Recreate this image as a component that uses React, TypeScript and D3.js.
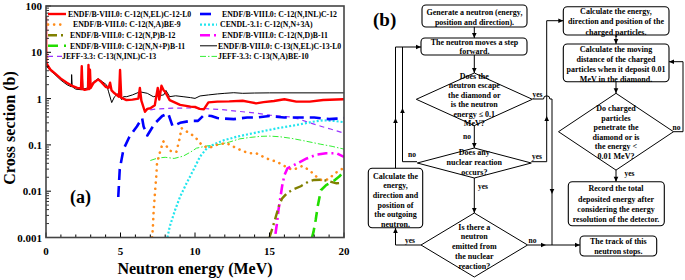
import React from 'react';
import * as d3 from 'd3';

// ---------------- DATA (panel a) ----------------
const xTicksMajor = [0, 5, 10, 15, 20];
const xTickLabels = ['0', '5', '10', '15', '20'];
const yTicksMajor = [100, 10, 1, 0.1, 0.01, 0.001];
const yTickLabels = ['100', '10', '1', '0.1', '0.01', '0.001'];

const c12Elastic: [number, number][] = [
  [0, 60], [0.02, 5.8], [0.3, 4.2], [0.6, 3.5], [1.0, 2.7], [1.4, 2.2], [1.8, 1.85], [2.1, 1.7], [2.35, 1.65],
  [2.4, 5.0], [2.45, 1.6], [2.6, 1.55], [2.82, 1.6], [2.85, 5.3], [2.9, 1.6], [2.95, 4.2], [3.0, 1.7],
  [3.2, 2.2], [3.5, 2.6], [3.7, 2.3], [4.0, 1.8], [4.2, 1.7], [4.3, 2.2], [4.4, 1.5], [4.6, 1.3], [4.9, 1.1],
  [4.97, 4.15], [5.05, 1.05], [5.4, 0.93], [5.8, 0.95], [6.2, 1.0], [6.3, 1.7], [6.4, 0.9], [6.64, 0.52],
  [6.8, 0.6], [7.0, 0.62], [7.3, 0.72], [7.5, 1.7], [7.6, 0.95], [7.75, 1.9], [7.9, 1.5], [8.0, 1.4],
  [8.3, 0.93], [9.0, 0.73], [9.7, 0.67], [10.0, 0.66], [10.3, 0.6], [10.6, 0.59], [10.9, 0.83],
  [11.5, 0.86], [12.3, 0.87], [13.2, 0.9], [13.6, 0.85], [14.1, 0.79], [14.6, 0.84], [15.3, 0.89],
  [16.0, 0.97], [16.8, 0.86], [17.7, 0.86], [18.6, 0.93], [19.95, 0.97], [20, 0.97],
];
const c12NA: [number, number][] = [
  [7.12, 0.001], [7.17, 0.0016], [7.22, 0.0035], [7.32, 0.01], [7.4, 0.021], [7.45, 0.04], [7.65, 0.07],
  [7.87, 0.12], [8.3, 0.075], [8.75, 0.07], [8.95, 0.13], [9.1, 0.23], [9.6, 0.18], [10.0, 0.15],
  [10.45, 0.1], [10.9, 0.085], [11.45, 0.1], [12.1, 0.11], [12.8, 0.084], [13.6, 0.066], [14.1, 0.066],
  [14.8, 0.051], [15.5, 0.043], [16.3, 0.031], [16.6, 0.029], [17.2, 0.035], [17.7, 0.028], [18.05, 0.022],
  [18.4, 0.0175], [18.95, 0.018], [19.4, 0.0245], [20, 0.032],
];
const c12NP: [number, number][] = [
  [15.0, 0.001], [15.2, 0.0016], [15.45, 0.003], [15.65, 0.005], [15.85, 0.007], [16.2, 0.0092],
  [16.6, 0.011], [17.1, 0.0128], [17.6, 0.016], [18.0, 0.0175], [18.5, 0.0177], [18.9, 0.0168],
  [19.5, 0.0148], [19.8, 0.015],
];
const c12NNP: [number, number][] = [
  [17.85, 0.001], [17.95, 0.0013], [18.1, 0.0024], [18.25, 0.005], [18.45, 0.0105], [18.8, 0.0135],
  [19.3, 0.0165], [19.7, 0.021], [20, 0.027],
];
const c13Inl: [number, number][] = [
  [7.0, 0.57], [7.5, 0.6], [8.5, 0.62], [10.0, 0.63], [11.0, 0.6], [12.0, 0.57], [13.2, 0.52], [14.2, 0.48],
  [15.0, 0.44], [16.4, 0.4], [17.0, 0.36], [17.7, 0.3], [18.5, 0.25], [19.1, 0.22], [20, 0.18],
];
const c12Inl: [number, number][] = [
  [4.85, 0.0075], [4.95, 0.03], [5.2, 0.08], [5.6, 0.15], [6.1, 0.25], [6.45, 0.38], [6.55, 0.25],
  [6.8, 0.16], [7.3, 0.29], [7.8, 0.42], [8.2, 0.48], [8.5, 0.25], [9.0, 0.3], [9.7, 0.33], [10.2, 0.33],
  [10.6, 0.44], [11.1, 0.42], [11.5, 0.38], [12.0, 0.37], [12.6, 0.36], [13.5, 0.39], [14.1, 0.39],
  [15.0, 0.42], [16.0, 0.39], [17.0, 0.39], [18.0, 0.39], [19.0, 0.36], [19.5, 0.37], [20, 0.38],
];
const cendlN3A: [number, number][] = [
  [8.15, 0.001], [8.3, 0.0017], [8.66, 0.0039], [9.0, 0.0076], [9.44, 0.015], [9.9, 0.029], [10.34, 0.056],
  [10.8, 0.085], [11.2, 0.1], [11.9, 0.125], [12.8, 0.15], [13.5, 0.168], [14.4, 0.193], [15.5, 0.228],
  [16.8, 0.268], [17.9, 0.316], [18.6, 0.34], [19.3, 0.33], [20, 0.31],
];
const c12ND: [number, number][] = [
  [15.4, 0.0012], [15.5, 0.002], [15.6, 0.0039], [15.75, 0.008], [15.85, 0.013], [16.0, 0.022],
  [16.2, 0.031], [16.6, 0.036], [17.0, 0.042], [17.5, 0.051], [18.2, 0.062], [18.8, 0.066], [19.5, 0.066],
  [20, 0.055],
];
const c13Elastic: [number, number][] = [
  [0.02, 5.0], [0.3, 4.0], [0.6, 3.3], [1.0, 2.5], [1.4, 2.0], [1.7, 1.8], [1.72, 3.3], [1.76, 1.8],
  [2.0, 1.6], [2.4, 1.55], [2.44, 3.3], [2.48, 1.6], [2.8, 1.7], [3.2, 2.3], [3.5, 2.7], [3.8, 2.3],
  [4.07, 1.97], [4.2, 1.4], [4.41, 0.82], [4.6, 1.1], [4.97, 1.4], [4.98, 3.0], [5.0, 1.05], [5.08, 0.95],
  [5.2, 1.1], [5.42, 1.1], [5.8, 1.2], [6.3, 1.4], [6.8, 1.3], [7.2, 1.1], [7.5, 1.15], [7.9, 1.2],
  [8.05, 1.5], [8.3, 1.1], [8.7, 1.15], [9.2, 1.1], [9.7, 1.05], [10.0, 1.01], [10.34, 1.14], [10.9, 1.2],
  [11.5, 1.26], [12.0, 1.3], [12.6, 1.34], [13.2, 1.3], [14.0, 1.32], [15.0, 1.33], [20, 1.33],
];
const c13NA: [number, number][] = [
  [7.0, 0.046], [7.5, 0.052], [8.0, 0.054], [8.6, 0.051], [9.2, 0.057], [9.7, 0.07], [10.1, 0.085],
  [10.8, 0.095], [11.5, 0.1], [12.3, 0.115], [13.0, 0.135], [13.7, 0.145], [14.4, 0.153], [15.0, 0.155],
  [15.7, 0.15], [16.5, 0.138], [17.3, 0.123], [18.4, 0.104], [19.2, 0.093], [20, 0.081],
];

const seriesNames = [
  'ENDF/B-VIII.0: C-12(N,EL)C-12-L0',
  'ENDF/B-VIII.0: C-12(N,A)BE-9',
  'ENDF/B-VIII.0: C-12(N,P)B-12',
  'ENDF/B-VIII.0: C-12(N,N+P)B-11',
  'JEFF-3.3: C-13(N,INL)C-13',
  'ENDF/B-VIII.0: C-12(N,INL)C-12',
  'CENDL-3.1: C-12(N,N+3A)',
  'ENDF/B-VIII.0: C-12(N,D)B-11',
  'ENDF/B-VIII.0: C-13(N,EL)C-13-L0',
  'JEFF-3.3: C-13(N,A)BE-10',
];
const seriesData = [c12Elastic, c12NA, c12NP, c12NNP, c13Inl, c12Inl, cendlN3A, c12ND, c13Elastic, c13NA];

// styles (not data)
const seriesStyles = [
  { color: '#ff0000', width: 2.4, dash: '', cap: 'butt' },
  { color: '#ff8c1a', width: 2.6, dash: '0.1 6', cap: 'round' },
  { color: '#808000', width: 2.4, dash: '9 4 2 4', cap: 'butt' },
  { color: '#22dd00', width: 2.6, dash: '10 6', cap: 'butt' },
  { color: '#9933ff', width: 1.2, dash: '5 4', cap: 'butt' },
  { color: '#0000ff', width: 2.6, dash: '11 6', cap: 'butt' },
  { color: '#22e5ee', width: 2.2, dash: '2 2', cap: 'butt' },
  { color: '#ff00ff', width: 2.6, dash: '10 4 2 4', cap: 'butt' },
  { color: '#000000', width: 1.0, dash: '', cap: 'butt' },
  { color: '#33ee33', width: 1.0, dash: '6 2 1.5 2', cap: 'butt' },
];
// drawing order (legend order differs)
const drawOrder = [4, 9, 6, 1, 7, 2, 3, 5, 8, 0];
const legendLeft = [0, 1, 2, 3, 4];
const legendRight = [5, 6, 7, 8, 9];
const legendLeftTextX = [68, 73, 70, 70, 62];
const legendRightTextX = [222, 220, 222, 218, 218];

// ---------------- DATA (panel b) ----------------
const boxTexts = {
  gen: ['Generate a neutron (energy,', 'position and direction).'],
  step: ['The neutron moves a step', 'forward.'],
  outgoing: ['Calculate the', 'energy,', 'direction and', 'position of', 'the outgoing', 'neutron.'],
  charged: ['Calculate the energy,', 'direction and position of the', 'charged particles.'],
  moving: ['Calculate the moving', 'distance of the charged', 'particles when it deposit 0.01', 'MeV in the diamond.'],
  record: ['Record the total', 'deposited energy after', 'considering the energy', 'resolution of the detector.'],
  stop: ['The track of this', 'neutron stops.'],
};
const diamondTexts = {
  escape: ['Does the', 'neutron escape', 'the diamond or', 'is the neutron', 'energy \u2264 0.1', 'MeV?'],
  reaction: ['Does any', 'nuclear reaction', 'occurs?'],
  emitted: ['Is there a', 'neutron', 'emitted from', 'the nuclear', 'reaction?'],
  penetrate: ['Do charged', 'particles', 'penetrate the', 'diamond or is', 'the energy <', '0.01 MeV?'],
};

const SERIF = "'Liberation Serif', 'Times New Roman', serif";

const PL = 46, PR = 344, PT = 6, PB = 237.5;

function Arrow({ x, y, dir }: { x: number; y: number; dir: 'up' | 'down' | 'left' | 'right' }) {
  const L = 5, Wd = 2.3;
  let pts = '';
  if (dir === 'down') pts = `${x},${y} ${x - Wd},${y - L} ${x + Wd},${y - L}`;
  if (dir === 'up') pts = `${x},${y} ${x - Wd},${y + L} ${x + Wd},${y + L}`;
  if (dir === 'right') pts = `${x},${y} ${x - L},${y - Wd} ${x - L},${y + Wd}`;
  if (dir === 'left') pts = `${x},${y} ${x + L},${y - Wd} ${x + L},${y + Wd}`;
  return <polygon points={pts} fill="#000" />;
}

function Lines({ lines, cx, y0, dy, size = 8 }: { lines: string[]; cx: number; y0: number; dy: number; size?: number }) {
  return (
    <g>
      {lines.map((t, i) => (
        <text key={i} x={cx} y={y0 + i * dy} textAnchor="middle" fontFamily={SERIF} fontWeight="bold" fontSize={size} fill="#000">
          {t}
        </text>
      ))}
    </g>
  );
}

function Box({ x0, y0, x1, y1 }: { x0: number; y0: number; x1: number; y1: number }) {
  return <rect x={x0} y={y0} width={x1 - x0} height={y1 - y0} rx={4} ry={4} fill="#fff" stroke="#000" strokeWidth={1.1} />;
}

function Diamond({ cx, cy, hw, hh }: { cx: number; cy: number; hw: number; hh: number }) {
  return (
    <polygon
      points={`${cx},${cy - hh} ${cx + hw},${cy} ${cx},${cy + hh} ${cx - hw},${cy}`}
      fill="#fff"
      stroke="#000"
      strokeWidth={1}
    />
  );
}

function Label({ x, y, t, anchor = 'middle' }: { x: number; y: number; t: string; anchor?: string }) {
  return (
    <text x={x} y={y} textAnchor={anchor as any} fontFamily={SERIF} fontWeight="bold" fontSize={7.5} fill="#000">
      {t}
    </text>
  );
}

export default function App() {
  const x = d3.scaleLinear().domain([0, 20]).range([PL, PR]);
  const y = d3.scaleLog().domain([0.001, 100]).range([PB, PT]);
  const line = d3
    .line<[number, number]>()
    .x((d) => x(d[0]))
    .y((d) => y(Math.max(d[1], 0.0009)));

  const xMinor = d3.range(0, 21, 1);
  const yMinor: number[] = [];
  for (let e = -3; e < 2; e++) for (let m = 2; m <= 9; m++) yMinor.push(m * Math.pow(10, e));

  const ln = { stroke: '#000', strokeWidth: 1, fill: 'none' } as const;

  return (
    <svg width={685} height={280} style={{ position: 'absolute', left: 0, top: 0, background: '#fff' }}>
      <rect x={0} y={0} width={685} height={280} fill="#fff" />
      <defs>
        <clipPath id="plotclip">
          <rect x={PL} y={PT} width={PR - PL} height={PB - PT} />
        </clipPath>
      </defs>

      {/* ---------- panel (a) ---------- */}
      <g clipPath="url(#plotclip)">
        {drawOrder.map((i) => {
          const s = seriesStyles[i];
          return (
            <path
              key={i}
              d={line(seriesData[i]) || ''}
              fill="none"
              stroke={s.color}
              strokeWidth={s.width}
              strokeDasharray={s.dash || undefined}
              strokeLinecap={s.cap as any}
              strokeLinejoin="round"
            />
          );
        })}
      </g>

      {/* ticks */}
      {xMinor.map((v) => {
        const major = v % 5 === 0;
        return <line key={'xt' + v} x1={x(v)} x2={x(v)} y1={PB} y2={PB - (major ? 5 : 3)} stroke="#000" strokeWidth={1} />;
      })}
      {yTicksMajor.map((v) => (
        <line key={'ytM' + v} x1={PL} x2={PL + 5} y1={y(v)} y2={y(v)} stroke="#000" strokeWidth={1} />
      ))}
      {yMinor.map((v, i) => (
        <line key={'ytm' + i} x1={PL} x2={PL + 3} y1={y(v)} y2={y(v)} stroke="#000" strokeWidth={0.8} />
      ))}

      {/* frame */}
      <rect x={PL} y={PT} width={PR - PL} height={PB - PT} fill="none" stroke="#444" strokeWidth={1.6} />

      {/* tick labels */}
      {xTicksMajor.map((v, i) => (
        <text key={'xl' + v} x={x(v)} y={255} textAnchor="middle" fontFamily={SERIF} fontWeight="bold" fontSize={11}>
          {xTickLabels[i]}
        </text>
      ))}
      {yTicksMajor.map((v, i) => (
        <text key={'yl' + v} x={42} y={y(v) + 4} textAnchor="end" fontFamily={SERIF} fontWeight="bold" fontSize={11}>
          {yTickLabels[i]}
        </text>
      ))}

      {/* axis titles */}
      <text x={195} y={274} textAnchor="middle" fontFamily={SERIF} fontWeight="bold" fontSize={16}>
        Neutron energy (MeV)
      </text>
      <text
        x={15}
        y={128}
        transform="rotate(-90, 15, 128)"
        textAnchor="middle"
        fontFamily={SERIF}
        fontWeight="bold"
        fontSize={16}
      >
        Cross section (b)
      </text>
      <text x={70} y={203} fontFamily={SERIF} fontWeight="bold" fontSize={18}>
        (a)
      </text>

      {/* legend */}
      {legendLeft.map((si, r) => {
        const s = seriesStyles[si];
        const yy = 14 + r * 10.6;
        return (
          <g key={'ll' + r}>
            <line x1={48} x2={66} y1={yy} y2={yy} stroke={s.color} strokeWidth={s.width} strokeDasharray={s.dash || undefined} strokeLinecap={s.cap as any} />
            <text x={legendLeftTextX[r]} y={yy + 2.8} fontFamily={SERIF} fontWeight="bold" fontSize={7.8}>
              {seriesNames[si]}
            </text>
          </g>
        );
      })}
      {legendRight.map((si, r) => {
        const s = seriesStyles[si];
        const yy = 14 + r * 10.6;
        return (
          <g key={'lr' + r}>
            <line x1={200} x2={217} y1={yy} y2={yy} stroke={s.color} strokeWidth={s.width} strokeDasharray={s.dash || undefined} strokeLinecap={s.cap as any} />
            <text x={legendRightTextX[r]} y={yy + 2.8} fontFamily={SERIF} fontWeight="bold" fontSize={7.8}>
              {seriesNames[si]}
            </text>
          </g>
        );
      })}

      {/* ---------- panel (b) ---------- */}
      <text x={373} y={26} fontFamily={SERIF} fontWeight="bold" fontSize={19}>
        (b)
      </text>

      {/* connectors */}
      <line x1={474.3} y1={27} x2={474.3} y2={38} {...ln} />
      <Arrow x={474.3} y={38} dir="down" />
      <line x1={474.3} y1={55} x2={474.3} y2={73} {...ln} />
      <Arrow x={474.3} y={73} dir="down" />
      <line x1={474.3} y1={125.5} x2={474.3} y2={148} {...ln} />
      <Arrow x={474.3} y={148} dir="down" />
      <line x1={474.3} y1={178} x2={474.3} y2={213} {...ln} />
      <Arrow x={474.3} y={213} dir="down" />
      {/* emitted yes -> outgoing */}
      <polyline points="421,245 395.5,245 395.5,228" {...ln} />
      <Arrow x={395.5} y={228} dir="up" />
      {/* outgoing -> step */}
      <polyline points="395.5,168.3 395.5,47 421,47" {...ln} />
      <Arrow x={421} y={47} dir="right" />
      <Arrow x={395.5} y={118} dir="up" />
      {/* reaction no -> step */}
      <polyline points="417,161.7 402.5,161.7 402.5,47" {...ln} />
      <Arrow x={402.5} y={108} dir="up" />
      {/* reaction yes -> charged */}
      <polyline points="531.3,161.7 546.7,161.7 546.7,20.7 563.3,20.7" {...ln} />
      <Arrow x={563.3} y={20.7} dir="right" />
      <Arrow x={546.7} y={116} dir="up" />
      {/* escape yes -> stop */}
      <path d="M532.7,99 H543.5 A3.2,3.2 0 0 1 549.9,99 H552 V245" {...ln} />
      <Arrow x={552} y={194} dir="down" />
      {/* emitted no -> stop */}
      <line x1={527.7} y1={245} x2={580} y2={245} {...ln} />
      <Arrow x={580} y={245} dir="right" />
      <Arrow x={546} y={245} dir="right" />
      {/* right column */}
      <line x1={616} y1={35} x2={616} y2={44} {...ln} />
      <Arrow x={616} y={44} dir="down" />
      <line x1={616} y1={81.7} x2={616} y2={93.3} {...ln} />
      <Arrow x={616} y={93.3} dir="down" />
      <polyline points="673.3,131.7 683,131.7 683,61.7 669,61.7" {...ln} />
      <Arrow x={669} y={61.7} dir="left" />
      <line x1={616} y1={170} x2={616} y2={181.7} {...ln} />
      <Arrow x={616} y={181.7} dir="down" />

      {/* boxes */}
      <Box x0={422} y0={5} x1={527} y1={27} />
      <Lines lines={boxTexts.gen} cx={474.5} y0={15} dy={10} />
      <Box x0={421} y0={38} x1={527} y1={55} />
      <Lines lines={boxTexts.step} cx={474.5} y0={45.3} dy={8.8} />
      <Box x0={368.3} y0={168.3} x1={422.7} y1={227.7} />
      <Lines lines={boxTexts.outgoing} cx={395.5} y0={178.5} dy={9.7} />
      <Box x0={563.3} y0={6.7} x1={669} y1={35} />
      <Lines lines={boxTexts.charged} cx={616} y0={14} dy={10.3} />
      <Box x0={563.3} y0={44} x1={669} y1={81.7} />
      <Lines lines={boxTexts.moving} cx={616} y0={52.3} dy={9.9} />
      <Box x0={568.3} y0={181.7} x1={664.3} y1={225.7} />
      <Lines lines={boxTexts.record} cx={616} y0={191.3} dy={10.3} />
      <Box x0={580} y0={236} x1={656.7} y1={256} />
      <Lines lines={boxTexts.stop} cx={618.3} y0={243.5} dy={10} />

      {/* diamonds */}
      <Diamond cx={474.3} cy={99.3} hw={58} hh={26.3} />
      <Lines lines={diamondTexts.escape} cx={474.3} y0={78.8} dy={9.5} />
      <Diamond cx={474.3} cy={163} hw={57} hh={15} />
      <Lines lines={diamondTexts.reaction} cx={474.3} y0={154.5} dy={10} />
      <Diamond cx={474.3} cy={245} hw={53.3} hh={32} />
      <Lines lines={diamondTexts.emitted} cx={474.3} y0={229.5} dy={9.8} />
      <Diamond cx={616} cy={131.7} hw={57.5} hh={38.4} />
      <Lines lines={diamondTexts.penetrate} cx={616} y0={111} dy={9.6} />

      {/* yes / no labels */}
      <Label x={532.5} y={96.5} t="yes" anchor="start" />
      <Label x={471} y={139} t="no" anchor="end" />
      <Label x={408} y={157} t="no" anchor="start" />
      <Label x={532} y={159} t="yes" anchor="start" />
      <Label x={478} y={188.5} t="yes" anchor="start" />
      <Label x={405} y={243} t="yes" anchor="start" />
      <Label x={528.5} y={243} t="no" anchor="start" />
      <Label x={672.5} y={129.5} t="no" anchor="start" />
      <Label x={624.5} y={176} t="yes" anchor="start" />
    </svg>
  );
}
